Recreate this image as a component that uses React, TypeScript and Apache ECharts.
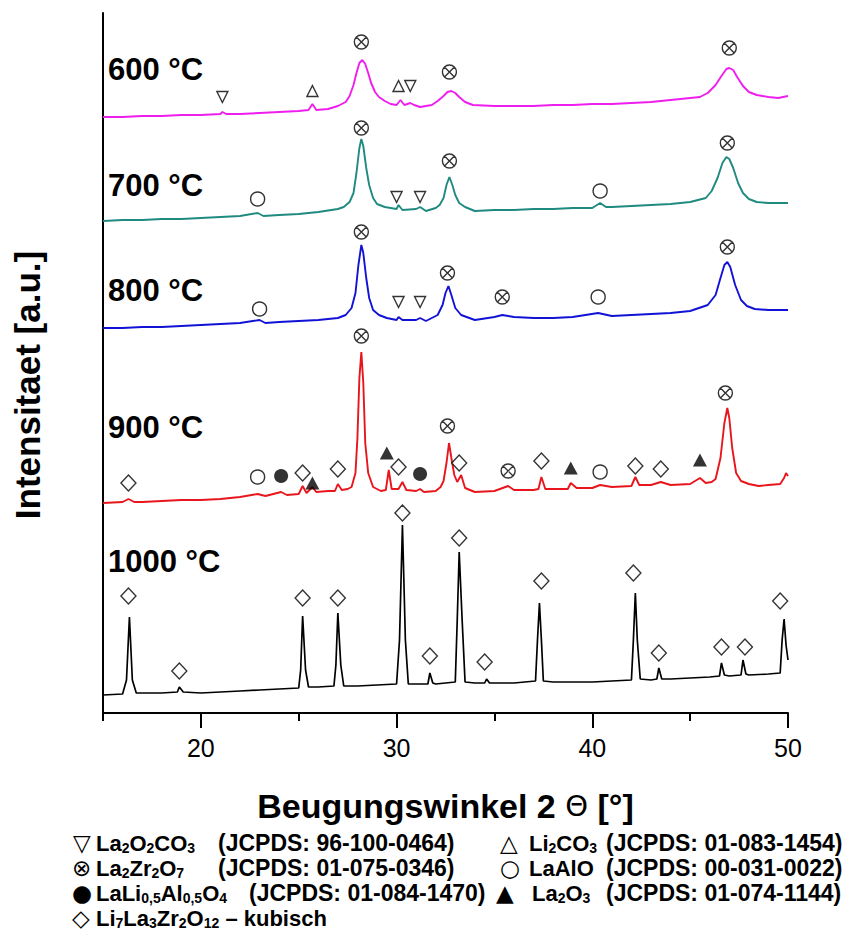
import React, { useEffect, useRef } from 'react';
import * as echarts from 'echarts';

// ---- XRD patterns: [2θ (°), intensity (a.u., stacked)] ----
const trace600: [number, number][] = [
  [15, 596], [16, 596], [17, 597], [18, 597], [19, 598], [20, 598], [21, 599], [21.1, 601], [21.3, 599],
  [22, 599], [23, 600], [24, 601], [25, 602], [25.5, 603], [25.7, 609], [25.9, 603], [26.5, 604], [27.0, 607],
  [27.4, 611], [27.6, 617], [27.8, 628], [27.95, 640], [28.1, 650], [28.25, 653], [28.4, 649], [28.55, 640],
  [28.7, 630], [28.9, 621], [29.1, 616], [29.4, 612], [29.7, 609], [30.0, 608], [30.2, 613], [30.4, 608],
  [30.7, 610], [30.9, 608], [31.2, 606], [31.5, 607], [31.8, 608], [32.1, 612], [32.4, 617], [32.6, 621],
  [32.8, 622], [33.0, 620], [33.2, 616], [33.5, 611], [33.9, 608], [35, 607], [36, 607], [37, 607], [38, 608],
  [39, 608], [40, 609], [41, 609], [42, 610], [43, 611], [44, 613], [45, 615], [45.5, 616], [45.9, 620],
  [46.3, 628], [46.6, 637], [46.85, 644], [47.0, 645], [47.2, 643], [47.4, 636], [47.7, 627], [48.0, 621],
  [48.4, 618], [49, 616], [49.5, 615], [50, 617],
];
const trace700: [number, number][] = [
  [15, 492], [16, 493], [17, 493], [18, 494], [19, 494], [20, 495], [21, 496], [22, 497], [22.9, 500],
  [23.2, 497], [24, 498], [25, 499], [26, 501], [27, 504], [27.3, 506], [27.6, 511], [27.8, 520],
  [27.95, 540], [28.1, 565], [28.2, 574], [28.3, 567], [28.45, 545], [28.6, 528], [28.8, 515], [29.0, 509],
  [29.4, 506], [30.0, 504], [30.1, 508], [30.3, 503], [31.0, 504], [31.2, 506], [31.5, 502], [32.0, 505],
  [32.2, 508], [32.4, 515], [32.55, 528], [32.7, 536], [32.85, 528], [33.0, 518], [33.2, 510], [33.5, 506],
  [34, 502], [35, 503], [36, 503], [37, 504], [38, 504], [39, 505], [40, 505], [40.4, 510], [40.7, 506],
  [41, 506], [42, 507], [43, 508], [44, 509], [45, 511], [45.8, 515], [46.1, 522], [46.4, 535], [46.65, 550],
  [46.85, 556], [47.0, 554], [47.2, 545], [47.45, 530], [47.7, 520], [48.0, 514], [48.4, 511], [49, 510],
  [50, 510],
];
const trace800: [number, number][] = [
  [15, 385], [16, 385], [17, 386], [18, 386], [19, 387], [20, 388], [21, 389], [22, 390], [23.0, 393],
  [23.3, 390], [24, 391], [25, 392], [26, 393], [27, 395], [27.4, 398], [27.7, 405], [27.9, 420],
  [28.05, 448], [28.2, 468], [28.3, 460], [28.45, 435], [28.6, 415], [28.8, 403], [29.1, 398], [29.5, 395],
  [30.0, 393], [30.1, 396], [30.3, 393], [31, 393], [31.2, 395], [31.5, 392], [32.1, 398], [32.35, 408],
  [32.5, 420], [32.65, 427], [32.8, 418], [33.0, 405], [33.3, 398], [34, 393], [35, 396], [35.4, 398],
  [36, 396], [37, 395], [38, 395], [39, 396], [40.3, 400], [41, 397], [42, 398], [43, 399], [44, 400],
  [45, 402], [45.9, 408], [46.3, 418], [46.55, 435], [46.75, 448], [46.9, 451], [47.05, 446], [47.3, 428],
  [47.6, 413], [47.9, 407], [48.3, 404], [49, 403], [50, 403],
];
const trace900: [number, number][] = [
  [15, 210], [16.0, 211], [16.3, 214], [16.6, 211], [17, 211], [18, 212], [19, 213], [20, 213], [21, 214],
  [22, 216], [22.9, 219], [23.3, 217], [24.1, 221], [24.4, 218], [25, 219], [25.2, 227], [25.4, 220],
  [25.7, 226], [25.9, 221], [26.5, 222], [26.85, 222], [27.0, 229], [27.2, 223], [27.5, 224], [27.7, 226],
  [27.9, 240], [28.0, 275], [28.1, 335], [28.2, 361], [28.3, 330], [28.4, 270], [28.55, 240], [28.8, 226],
  [29.2, 222], [29.45, 223], [29.6, 243], [29.75, 224], [30.1, 224], [30.3, 231], [30.5, 223], [31.0, 222],
  [31.2, 224], [31.4, 221], [32.0, 222], [32.25, 226], [32.4, 232], [32.55, 250], [32.68, 270], [32.8, 255],
  [32.95, 238], [33.1, 231], [33.3, 238], [33.5, 225], [34, 221], [35, 222], [35.7, 227], [36, 223], [37, 223],
  [37.25, 224], [37.4, 236], [37.6, 224], [38, 224], [38.75, 224], [38.9, 230], [39.2, 225], [40, 225],
  [40.4, 228], [41, 226], [42, 227], [42.2, 236], [42.4, 228], [43, 228], [43.5, 231], [44, 228], [45, 229],
  [45.5, 235], [45.8, 230], [46.1, 231], [46.3, 234], [46.55, 255], [46.75, 290], [46.9, 305], [47.0, 295],
  [47.15, 265], [47.35, 240], [47.6, 232], [48.0, 229], [48.5, 227], [49, 228], [49.6, 229], [49.8, 235],
  [49.9, 240], [50, 237],
];
const trace1000: [number, number][] = [
  [15, 18], [16.0, 19], [16.2, 33], [16.35, 96], [16.5, 33], [16.7, 20], [17, 20], [18, 20], [18.8, 21],
  [18.9, 26], [19.1, 21], [20, 20], [21, 21], [22, 22], [23, 23], [24, 24], [25, 25], [25.1, 43], [25.2, 97],
  [25.35, 43], [25.5, 26], [26, 26], [26.8, 27], [26.9, 48], [27.0, 100], [27.15, 48], [27.3, 27], [28, 27],
  [29, 28], [30.0, 29], [30.15, 73], [30.3, 188], [30.45, 73], [30.6, 29], [31, 29], [31.6, 29], [31.7, 40],
  [31.85, 30], [32, 29], [33.0, 31], [33.1, 93], [33.2, 161], [33.35, 93], [33.5, 31], [34, 30], [34.5, 30],
  [34.6, 34], [34.75, 30], [35, 30], [36, 30], [37.1, 32], [37.2, 73], [37.3, 110], [37.4, 73], [37.5, 32],
  [38, 31], [39, 31], [40, 31], [41, 32], [42.0, 33], [42.1, 73], [42.2, 120], [42.3, 73], [42.45, 34],
  [43, 33], [43.3, 34], [43.4, 45], [43.55, 34], [44, 34], [45, 35], [46, 36], [46.5, 37], [46.6, 50],
  [46.75, 38], [47, 37], [47.6, 38], [47.7, 53], [47.85, 39], [48, 38], [49, 39], [49.6, 40], [49.7, 73],
  [49.8, 94], [49.9, 68], [50, 53],
];

// ---- phase markers: [2θ, intensity] ----
const la2o2co3: [number, number][] = [[21.1, 616], [30.7, 627], [30.0, 516], [31.2, 516], [30.1, 411], [31.2, 411]];
const li2co3: [number, number][] = [[25.7, 622], [30.1, 627]];
const la2zr2o7: [number, number][] = [
  [28.2, 671], [32.7, 641], [47.0, 665], [28.2, 585], [32.7, 552], [46.9, 570],
  [28.2, 481], [32.6, 440], [35.4, 416], [46.9, 466], [28.2, 377], [32.6, 287], [35.7, 242], [46.8, 320],
];
const laalo: [number, number][] = [[22.9, 514], [40.4, 522], [23.0, 404], [40.3, 416], [22.9, 236], [40.4, 241]];
const lali05al05o4: [number, number][] = [[24.1, 237], [31.2, 239]];
const la2o3: [number, number][] = [[25.7, 230], [29.5, 260], [38.9, 245], [45.5, 253]];
const llzo: [number, number][] = [
  [16.3, 230], [25.2, 240], [27.0, 244], [30.1, 246], [33.2, 250], [37.4, 252], [42.2, 247], [43.5, 244],
  [16.3, 117], [18.9, 42], [25.2, 115], [27.0, 115], [30.3, 200], [31.7, 57], [33.2, 175], [34.5, 51],
  [37.4, 132], [42.1, 140], [43.4, 60], [46.6, 66], [47.8, 66], [49.6, 112],
];

const temperatures = ['600 °C', '700 °C', '800 °C', '900 °C', '1000 °C'];
const traceColors = ['#EE1EEE', '#1F8A80', '#1212D6', '#E8161C', '#000000'];
const xTickLabels = [20, 30, 40, 50];

const legendRows = [
  [
    { sym: '▽', formula: 'La{s|2}O{s|2}CO{s|3}', ref: '(JCPDS: 96-100-0464)' },
    { sym: '△', formula: 'Li{s|2}CO{s|3}', ref: '(JCPDS: 01-083-1454)' },
  ],
  [
    { sym: '⊗', formula: 'La{s|2}Zr{s|2}O{s|7}', ref: '(JCPDS: 01-075-0346)' },
    { sym: '○', formula: 'LaAlO', ref: '(JCPDS: 00-031-0022)' },
  ],
  [
    { sym: '●', formula: 'LaLi{s|0,5}Al{s|0,5}O{s|4}', ref: '(JCPDS: 01-084-1470)' },
    { sym: '▲', formula: 'La{s|2}O{s|3}', ref: '(JCPDS: 01-074-1144)' },
  ],
  [{ sym: '◇', formula: 'Li{s|7}La{s|3}Zr{s|2}O{s|12} – kubisch', ref: '' }],
];

const FONT = '"Liberation Sans", Arial, Helvetica, sans-serif';
const XSYM =
  'path://M0,10A10,10,0,1,1,20,10A10,10,0,1,1,0,10ZM2.93,2.93L17.07,17.07M17.07,2.93L2.93,17.07';

export default function App() {
  const ref = useRef<HTMLDivElement>(null);
  useEffect(() => {
    if (!ref.current) return;
    document.body.style.margin = '0';
    const chart = echarts.init(ref.current, undefined, { renderer: 'svg' });
    const traces = [trace600, trace700, trace800, trace900, trace1000];

    const lineSeries = traces.map((d, i) => ({
      type: 'line',
      name: temperatures[i],
      data: d,
      showSymbol: false,
      symbol: 'none',
      lineStyle: { color: traceColors[i], width: i === 4 ? 1.7 : 1.9 },
      z: 2,
    }));

    const openStyle = { color: '#ffffff', borderColor: '#000', borderWidth: 1.4 };
    const markerSeries = [
      { name: 'La2O2CO3', data: la2o2co3, symbol: 'triangle', symbolRotate: 180, symbolSize: [11, 11], itemStyle: openStyle },
      { name: 'Li2CO3', data: li2co3, symbol: 'triangle', symbolSize: [11, 11], itemStyle: openStyle },
      { name: 'La2Zr2O7', data: la2zr2o7, symbol: XSYM, symbolSize: [14, 14], itemStyle: openStyle },
      { name: 'LaAlO', data: laalo, symbol: 'circle', symbolSize: 14, itemStyle: openStyle },
      { name: 'LaLi0.5Al0.5O4', data: lali05al05o4, symbol: 'circle', symbolSize: 14, itemStyle: { color: '#000' } },
      { name: 'La2O3', data: la2o3, symbol: 'triangle', symbolSize: [14, 13], itemStyle: { color: '#000' } },
      { name: 'Li7La3Zr2O12', data: llzo, symbol: 'diamond', symbolSize: [15, 16], itemStyle: openStyle },
    ].map((s) => ({ type: 'scatter', z: 5, silent: true, ...s }));

    const graphics: any[] = [];
    const labelY = [69, 185, 290, 427, 561];
    temperatures.forEach((t, i) => {
      graphics.push({
        type: 'text',
        x: 108,
        y: labelY[i],
        style: { text: t, fontSize: 31, fontWeight: 'bold', fontFamily: FONT, fill: '#000', verticalAlign: 'middle' },
      });
    });
    graphics.push({
      type: 'text',
      x: 27,
      y: 385,
      rotation: Math.PI / 2,
      style: {
        text: 'Intensitaet [a.u.]',
        fontSize: 35,
        fontWeight: 'bold',
        fontFamily: FONT,
        fill: '#000',
        align: 'center',
        verticalAlign: 'middle',
      },
    });

    const rowY = [843, 868, 893, 918];
    const colX = [
      [{ s: 73, f: 96, r: 218 }, { s: 500, f: 529, r: 606 }],
      [{ s: 72, f: 96, r: 218 }, { s: 500, f: 529, r: 606 }],
      [{ s: 72, f: 96, r: 249 }, { s: 496, f: 532, r: 606 }],
      [{ s: 72, f: 96, r: 0 }],
    ];
    const baseText = {
      fontSize: 23,
      fontWeight: 'bold',
      fontFamily: FONT,
      fill: '#000',
      verticalAlign: 'middle',
      lineHeight: 23,
    };
    const rich = {
      s: { fontSize: 14, fontWeight: 'bold', fontFamily: FONT, fill: '#000', verticalAlign: 'bottom', lineHeight: 14 },
    };
    legendRows.forEach((row, ri) => {
      row.forEach((e, ci) => {
        const p = colX[ri][ci];
        graphics.push({
          type: 'text',
          x: p.s,
          y: rowY[ri],
          style: {
            ...baseText,
            text: e.sym,
            fontFamily: '"DejaVu Sans", sans-serif',
            fontWeight: 'normal',
            fontSize: 23,
            lineHeight: 23,
          },
        });
        graphics.push({
          type: 'text',
          x: p.f,
          y: rowY[ri],
          style: { ...baseText, fontSize: 22, text: e.formula, lineHeight: 23, rich },
        });
        if (e.ref) {
          graphics.push({ type: 'text', x: p.r, y: rowY[ri], style: { ...baseText, text: e.ref } });
        }
      });
    });

    chart.setOption({
      animation: false,
      backgroundColor: '#ffffff',
      grid: { left: 103, right: 76, top: 13, bottom: 232 },
      xAxis: [
        {
          type: 'value',
          min: 15,
          max: 50,
          interval: 5,
          axisLine: { lineStyle: { color: '#000', width: 2 } },
          axisTick: { length: 8, lineStyle: { color: '#000', width: 2 } },
          axisLabel: { show: false },
          splitLine: { show: false },
        },
        {
          type: 'value',
          min: 15,
          max: 50,
          position: 'bottom',
          axisLine: { show: false },
          axisTick: { customValues: xTickLabels, length: 15, lineStyle: { color: '#000', width: 2 } },
          axisLabel: { customValues: xTickLabels, fontSize: 25, color: '#000', fontFamily: FONT, margin: 22 },
          splitLine: { show: false },
          name: 'Beugungswinkel 2 {t|Θ} [°]',
          nameLocation: 'middle',
          nameGap: 76,
          nameTextStyle: {
            fontSize: 34,
            fontWeight: 'bold',
            color: '#000',
            fontFamily: FONT,
            rich: { t: { fontSize: 29, fontWeight: 'normal', fontFamily: '"DejaVu Sans", sans-serif', color: '#000' } },
          },
        },
      ],
      yAxis: {
        type: 'value',
        min: 0,
        max: 700,
        axisLine: { show: true, lineStyle: { color: '#000', width: 2 } },
        axisTick: { show: false },
        axisLabel: { show: false },
        splitLine: { show: false },
      },
      series: [...lineSeries, ...markerSeries],
      graphic: graphics,
    });
    return () => chart.dispose();
  }, []);
  return <div ref={ref} style={{ width: 864, height: 945 }} />;
}
